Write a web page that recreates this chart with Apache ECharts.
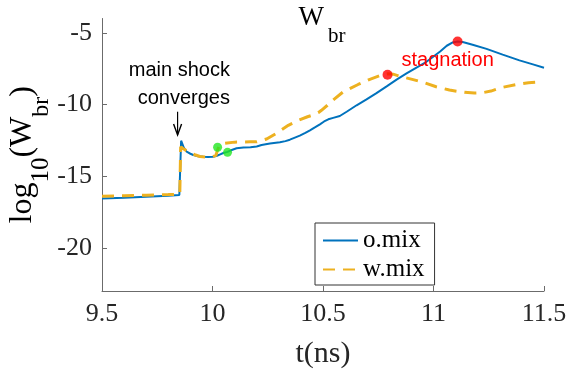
<!DOCTYPE html>
<html><head><meta charset="utf-8">
<script src="https://cdn.jsdelivr.net/npm/echarts@6/dist/echarts.min.js"></script>
<style>html,body{margin:0;padding:0;background:#fff}#c{width:568px;height:379px}</style>
</head><body><div id="c"></div>
<script>
// ---- data ----
const seriesNames = ['o.mix', 'w.mix'];
const tBlue = [9.5, 9.6, 9.7, 9.8, 9.85, 9.855, 9.858, 9.87, 9.883, 9.90, 9.913, 9.935, 9.958, 9.98, 10.003, 10.02, 10.035, 10.049, 10.068, 10.087, 10.109, 10.14, 10.172, 10.2, 10.222, 10.26, 10.305, 10.33, 10.35, 10.37, 10.395, 10.42, 10.441, 10.465, 10.486, 10.505, 10.524, 10.546, 10.576, 10.607, 10.652, 10.697, 10.742, 10.788, 10.833, 10.878, 10.923, 10.968, 11.0, 11.03, 11.06, 11.087, 11.11, 11.132, 11.177, 11.24, 11.313, 11.389, 11.45, 11.5];
const yBlue = [-16.55, -16.5, -16.43, -16.36, -16.31, -16.3, -12.52, -13.0, -13.29, -13.43, -13.52, -13.6, -13.64, -13.65, -13.64, -13.57, -13.47, -13.38, -13.3, -13.17, -13.05, -13.0, -12.98, -12.92, -12.82, -12.72, -12.63, -12.55, -12.45, -12.32, -12.17, -11.98, -11.8, -11.58, -11.38, -11.18, -11.03, -10.93, -10.8, -10.5, -10.05, -9.64, -9.2, -8.73, -8.26, -7.83, -7.42, -7.02, -6.65, -6.3, -5.9, -5.67, -5.6, -5.64, -5.83, -6.12, -6.52, -6.92, -7.2, -7.43];
const tOrange = [9.5, 9.6, 9.7, 9.8, 9.852, 9.856, 9.87, 9.898, 9.92, 9.943, 9.97, 10.0, 10.015, 10.03, 10.05, 10.1, 10.17, 10.2, 10.245, 10.29, 10.343, 10.388, 10.43, 10.456, 10.48, 10.493, 10.52, 10.546, 10.591, 10.659, 10.712, 10.772, 10.795, 10.817, 10.855, 10.908, 10.953, 11.012, 11.072, 11.14, 11.185, 11.22, 11.26, 11.305, 11.38, 11.43, 11.47];
const yOrange = [-16.4, -16.36, -16.32, -16.28, -16.25, -12.95, -13.1, -13.36, -13.5, -13.62, -13.66, -13.65, -13.55, -12.85, -12.72, -12.62, -12.6, -12.6, -12.4, -12.0, -11.45, -11.1, -10.85, -10.72, -10.55, -10.4, -10.05, -9.68, -9.12, -8.6, -8.24, -7.9, -7.85, -7.88, -8.06, -8.26, -8.45, -8.76, -8.99, -9.15, -9.2, -9.18, -9.06, -8.82, -8.59, -8.48, -8.44];
const stagnationT = [10.792, 11.109];
const stagnationY = [-7.92, -5.6];
const greenT = [10.023, 10.068];
const greenY = [-12.98, -13.33];
const yTicks = [-20, -15, -10, -5];
const xRange = [9.5, 11.5];
const yRange = [-23, -4];
// annotations (data coordinates)
const stagText = 'stagnation';
const stagPos = [10.855, -6.96];
const shockLines = ['main shock', 'converges'];
const shockPos = [[10.079, -7.59], [10.079, -9.58]];
const arrowPos = [[9.842, -10.5], [9.842, -12.12]];

// ---- chart ----
const SERIF = 'Liberation Serif';
const SANS = 'Liberation Sans';
const AX = '#6b6b6b', TXT = '#262626';
const zip = (a, b) => a.map((v, i) => [v, b[i]]);
const tickRich = {n: {fontFamily: SERIF, fontSize: 26, color: TXT}};
const chart = echarts.init(document.getElementById('c'), null, {renderer: 'canvas'});
chart.setOption({
  animation: false,
  backgroundColor: '#fff',
  textStyle: {fontFamily: SERIF},
  grid: {left: 102, right: 24, top: 18.5, bottom: 88, containLabel: false, outerBoundsMode: 'none'},
  xAxis: {
    type: 'value', min: xRange[0], max: xRange[1], interval: 0.5,
    name: 't(ns)', nameLocation: 'middle', nameGap: 48,
    nameTextStyle: {fontFamily: SERIF, fontSize: 30, color: TXT},
    axisLine: {lineStyle: {color: AX, width: 1}},
    axisTick: {inside: true, length: 5, lineStyle: {color: AX}},
    axisLabel: {fontFamily: SERIF, fontSize: 26, color: TXT, margin: 10, showMinLabel: true, showMaxLabel: true,
      formatter: v => '{n|' + v + '}', rich: tickRich},
    splitLine: {show: false}
  },
  yAxis: {
    type: 'value', min: yRange[0], max: yRange[1],
    axisLine: {show: true, lineStyle: {color: AX, width: 1}},
    axisTick: {show: true, inside: true, length: 5, lineStyle: {color: AX}, customValues: yTicks},
    axisLabel: {fontFamily: SERIF, fontSize: 26, color: TXT, margin: 10, customValues: yTicks,
      formatter: v => '{n|' + v + '}', rich: tickRich},
    splitLine: {show: false}
  },
  legend: {
    data: seriesNames, orient: 'vertical', left: 315, top: 223,
    itemWidth: 35, itemHeight: 14, itemGap: 4,
    padding: [5, 10, 3, 7],
    borderColor: '#333', borderWidth: 1, backgroundColor: '#fff',
    itemStyle: {opacity: 0},
    textStyle: {fontFamily: SERIF, fontSize: 25, color: '#000'}
  },
  series: [
    {name: seriesNames[0], type: 'line', data: zip(tBlue, yBlue), symbol: 'none', showSymbol: false,
     lineStyle: {color: '#0072BD', width: 2}, itemStyle: {color: '#0072BD'}, z: 2},
    {name: seriesNames[1], type: 'line', data: zip(tOrange, yOrange), symbol: 'none', showSymbol: false,
     lineStyle: {color: '#EDB120', width: 3, type: [12, 8]}, itemStyle: {color: '#EDB120'}, z: 3},
    {type: 'scatter', data: zip(greenT, greenY), symbolSize: 9, itemStyle: {color: '#22e622'}, z: 5},
    {type: 'scatter', data: zip(stagnationT, stagnationY), symbolSize: 10, itemStyle: {color: '#ff0000'}, z: 5}
  ]
});

// ---- text helpers ----
const mctx = document.createElement('canvas').getContext('2d');
function tw(s, size, fam) { mctx.font = size + 'px "' + fam + '"'; return mctx.measureText(s).width; }
function subParts(parts, fam) {
  let x = 0; const ch = [];
  parts.forEach((p) => {
    ch.push({type: 'text', x: x, y: p.dy - 0.34 * p.s,
      style: {text: p.t, fontFamily: fam, fontSize: p.s, fill: '#000', align: 'left', verticalAlign: 'middle'}});
    x += tw(p.t, p.s, fam) + (p.gap || 0);
  });
  return {children: ch, width: x};
}

const P = (pt) => chart.convertToPixel({gridIndex: 0}, pt);
const graphics = [];
const gl = chart.getModel().getComponent('grid').coordinateSystem.getRect();

// title W_br
const title = subParts([{t: 'W', s: 27, dy: 0, gap: 4}, {t: 'br', s: 21, dy: 16.7}], SERIF);
graphics.push({type: 'group', x: gl.x + gl.width / 2 - title.width / 2 - 1, y: 27, children: title.children});

// y label log10(W_br), rotated
const ylab = subParts([
  {t: 'log', s: 32, dy: 0}, {t: '10', s: 25, dy: 17},
  {t: '(W', s: 32, dy: 0}, {t: 'br', s: 24, dy: 17}, {t: ')', s: 32, dy: 0}], SERIF);
const yCenter = gl.y + gl.height / 2;
graphics.push({type: 'group', x: 33, y: yCenter + ylab.width / 2, rotation: Math.PI / 2, children: ylab.children});

// annotations
const sp = P(stagPos);
graphics.push({type: 'text', x: sp[0], y: sp[1], z: 10,
  style: {text: stagText, fontFamily: SANS, fontSize: 20, fill: '#ff0000', align: 'left', verticalAlign: 'middle'}});
shockLines.forEach((s, i) => {
  const p = P(shockPos[i]);
  graphics.push({type: 'text', x: p[0], y: p[1], z: 10,
    style: {text: s, fontFamily: SANS, fontSize: 20, fill: '#000', align: 'right', verticalAlign: 'middle'}});
});
const a0 = P(arrowPos[0]), a1 = P(arrowPos[1]);
graphics.push({type: 'line', z: 10, shape: {x1: a0[0], y1: a0[1], x2: a1[0], y2: a1[1]}, style: {stroke: '#000', lineWidth: 1.2}});
graphics.push({type: 'polyline', z: 10, shape: {points: [[a1[0] - 4, a1[1] - 11], [a1[0], a1[1]], [a1[0] + 4, a1[1] - 11]]},
  style: {stroke: '#000', lineWidth: 1.4, fill: null}});

chart.setOption({graphic: graphics});
</script>
</body></html>
